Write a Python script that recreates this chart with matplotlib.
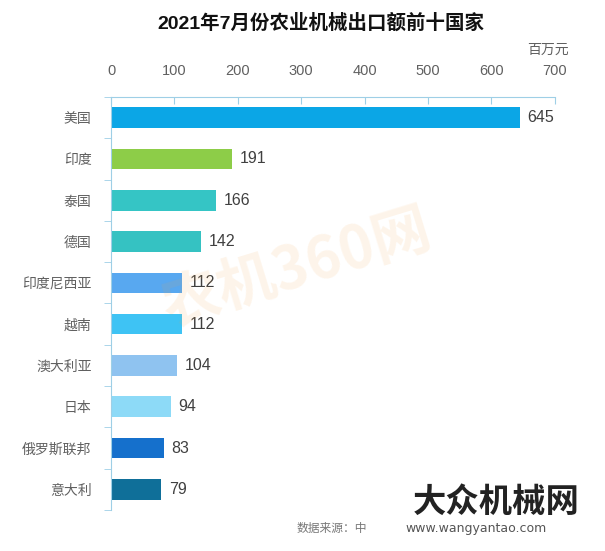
import matplotlib
matplotlib.use("Agg")
import matplotlib.pyplot as plt
import numpy as np

plt.rcParams['font.family'] = ['Noto Sans CJK SC', 'DejaVu Sans']
NUMFONT = ['Liberation Sans', 'Noto Sans CJK SC', 'DejaVu Sans']

countries = ["美国", "印度", "泰国", "德国", "印度尼西亚", "越南", "澳大利亚", "日本", "俄罗斯联邦", "意大利"]
values = [645, 191, 166, 142, 112, 112, 104, 94, 83, 79]
colors = ["#0BA6E6", "#8DCD48", "#35C5C5", "#35C2C2", "#58A8F0", "#3EC3F4",
          "#8FC3F0", "#8DDAF7", "#1570CC", "#0F6F99"]
xticks = [0, 100, 200, 300, 400, 500, 600, 700]

fig = plt.figure(figsize=(6.05, 5.51), dpi=100)
ax = fig.add_axes([0.1835, 0.0744, 0.7335, 0.7496])

y = np.arange(len(countries))
ax.barh(y, values, height=0.5, color=colors)
for yi, v in zip(y, values):
    ax.text(v + 12, yi, str(v), va='center', ha='left', fontsize=11.5, color='#404040',
            family=NUMFONT)

ax.set_ylim(len(countries) - 0.5, -0.5)
ax.set_xlim(0, 700)
ax.set_yticks(y)
ax.set_yticklabels(countries, fontsize=10, color='#606060')
ax.set_yticks(np.arange(-0.5, len(countries)), minor=True)
ax.tick_params(axis='y', which='major', length=0, pad=14)
ax.tick_params(axis='y', which='minor', length=5, color='#9ECFE6')

ax.xaxis.tick_top()
ax.set_xticks(xticks)
ax.set_xticklabels([str(t) for t in xticks], fontsize=10.5, color='#606060', family=NUMFONT)
ax.tick_params(axis='x', direction='in', length=5, color='#9ECFE6', pad=14)

for s in ['right', 'bottom']:
    ax.spines[s].set_visible(False)
ax.spines['top'].set_color('#9ECFE6')
ax.spines['left'].set_color('#9ECFE6')

fig.text(0.53, 0.958, "2021年7月份农业机械出口额前十国家", ha='center', va='center',
         fontsize=14, fontweight='bold', color='#111111', family=NUMFONT)
fig.text(0.905, 0.909, "百万元", ha='center', va='center', fontsize=10, color='#606060')

# watermark
fig.text(0.49, 0.51, "农机360网", ha='center', va='center', fontsize=42, fontweight='bold',
         color='#F5A040', alpha=0.11, rotation=17)

fig.text(0.82, 0.089, "大众机械网", ha='center', va='center', fontsize=24, fontweight='bold',
         color='#222222')
fig.text(0.49, 0.04, "数据来源：中", ha='left', va='center', fontsize=8.5, color='#777777')
fig.text(0.67, 0.04, "www.wangyantao.com", ha='left', va='center', fontsize=9,
         color='#555555', family='DejaVu Sans')

fig.savefig("out.png", dpi=100)
